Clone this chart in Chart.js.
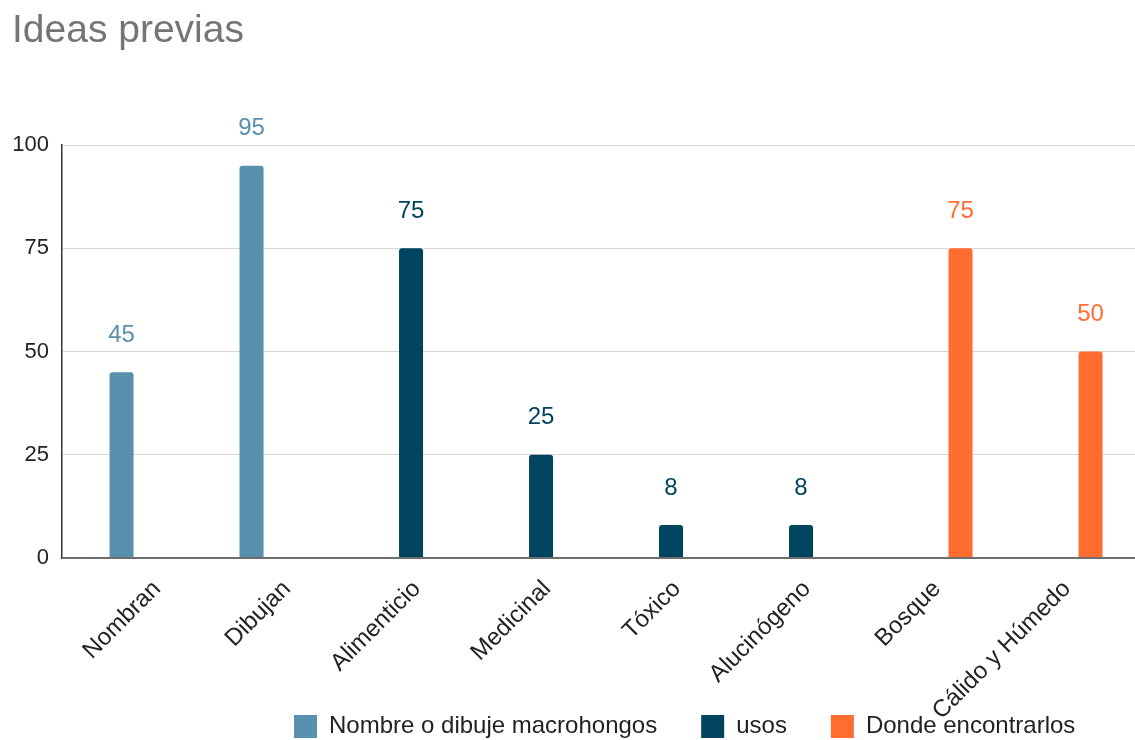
<!DOCTYPE html>
<html>
<head>
<meta charset="utf-8">
<script src="https://cdn.jsdelivr.net/npm/chart.js@4/dist/chart.umd.min.js"></script>
<style>
  html, body { margin: 0; padding: 0; background: #ffffff; }
  #wrap { width: 1135px; height: 740px; position: relative; }
</style>
</head>
<body>
<div id="wrap"><canvas id="c"></canvas></div>
<script>
// ---- data ----
const categories = ['Nombran', 'Dibujan', 'Alimenticio', 'Medicinal', 'Tóxico', 'Alucinógeno', 'Bosque', 'Cálido y Húmedo'];
const seriesNames = ['Nombre o dibuje macrohongos', 'usos', 'Donde encontrarlos'];
const nombreValues = [45, 95, null, null, null, null, null, null];
const usosValues = [null, null, 75, 25, 8, 8, null, null];
const dondeValues = [null, null, null, null, null, null, 75, 50];
const yTickValues = [0, 25, 50, 75, 100];
const titleText = 'Ideas previas';

const seriesColors = ['#5890ae', '#01445f', '#ff6d31'];
const FONT = '"Liberation Sans", Arial, Helvetica, sans-serif';

function toPoints(arr) { return arr.map((v, i) => ({ x: i, y: v })); }
const seriesValues = [nombreValues, usosValues, dondeValues];

const valueLabels = {
  id: 'valueLabels',
  afterDatasetsDraw(chart) {
    const ctx = chart.ctx;
    ctx.save();
    ctx.font = '24px ' + FONT;
    ctx.textAlign = 'center';
    ctx.textBaseline = 'middle';
    chart.data.datasets.forEach((ds, di) => {
      const meta = chart.getDatasetMeta(di);
      if (meta.hidden) return;
      ctx.fillStyle = seriesColors[di];
      meta.data.forEach((el, i) => {
        const v = ds.data[i].y;
        if (v === null || v === undefined) return;
        ctx.fillText(String(v), el.x, el.y - 37);
      });
    });
    ctx.restore();
  }
};

const layoutTweaks = {
  id: 'layoutTweaks',
  afterLayout(chart) {
    const L = chart.legend;
    if (L) {
      const pad = L.options.labels.padding;
      L.left = 294 - pad;
      L.right = 1300;
      L.top = 714.5 - pad;
      L.bottom = 800;
    }
    // let the rotated category labels run down to the canvas bottom (no clipping)
    const xs = chart.scales.x;
    if (xs) xs.bottom = chart.height;
  }
};

new Chart(document.getElementById('c'), {
  type: 'bar',
  data: {
    datasets: seriesNames.map((name, k) => ({
      label: name,
      data: toPoints(seriesValues[k]),
      backgroundColor: seriesColors[k],
      borderColor: seriesColors[k],
      borderWidth: 0,
      borderRadius: 3,
      categoryPercentage: 0.681,
      barPercentage: 0.814
    }))
  },
  options: {
    responsive: true,
    maintainAspectRatio: false,
    animation: false,
    layout: { padding: { left: 12, right: 0, top: 0, bottom: 0 } },
    plugins: {
      title: {
        display: true,
        text: titleText,
        align: 'start',
        color: '#757575',
        font: { family: FONT, size: 39, weight: 'normal' },
        padding: { top: 8, bottom: 90.2 }
      },
      legend: {
        display: true,
        position: 'bottom',
        align: 'start',
        labels: {
          color: '#222222',
          font: { family: FONT, size: 24 },
          boxWidth: 23,
          boxHeight: 23,
          padding: 44
        }
      },
      tooltip: { enabled: false }
    },
    scales: {
      x: {
        type: 'linear',
        offset: false,
        min: -0.685,
        max: 7.569,
        grid: { display: false },
        border: { display: false },
        afterBuildTicks: (scale) => {
          scale.ticks = categories.map((_, i) => ({ value: i }));
        },
        afterFit: (scale) => {
          scale.height = 740 - 558 - scale.chart.legend.height;
        },
        ticks: {
          autoSkip: false,
          minRotation: 45,
          maxRotation: 45,
          padding: 9,
          labelOffset: 6,
          color: '#222222',
          font: { family: FONT, size: 24 },
          callback: (v) => categories[v]
        }
      },
      y: {
        min: 0,
        max: 100,
        afterBuildTicks: (scale) => {
          scale.ticks = yTickValues.map(v => ({ value: v }));
        },
        afterFit: (scale) => { scale.width = 50; },
        grid: {
          drawTicks: false,
          color: (c) => (c.tick && c.tick.value === 0) ? '#6e6e6e' : '#d6d6d6',
          lineWidth: (c) => (c.tick && c.tick.value === 0) ? 2 : 1
        },
        border: { display: true, color: '#333333', width: 1.5 },
        ticks: {
          padding: 13,
          color: '#222222',
          font: { family: FONT, size: 22 }
        }
      }
    }
  },
  plugins: [valueLabels, layoutTweaks]
});
</script>
</body>
</html>
